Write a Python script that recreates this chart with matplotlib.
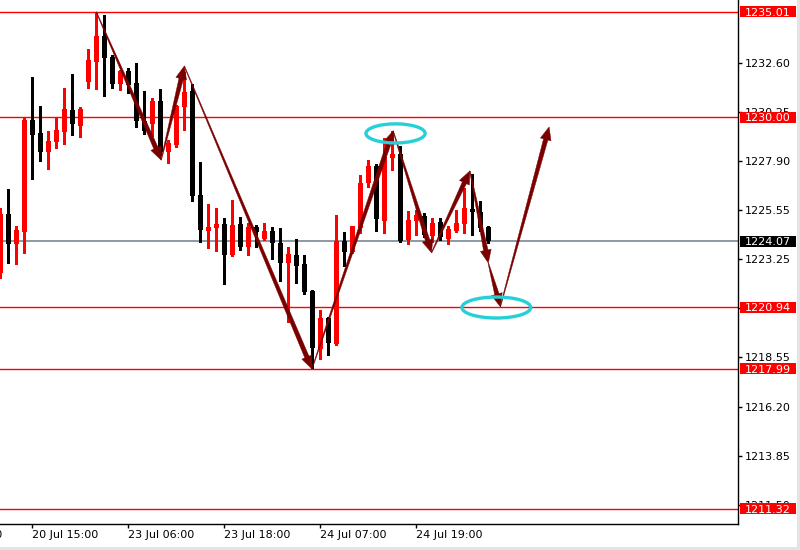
import matplotlib
matplotlib.use('Agg')
import matplotlib.pyplot as plt
import numpy as np
from matplotlib.patches import Polygon, Ellipse, Rectangle
from matplotlib.transforms import blended_transform_factory

# ---- data (H1 candles) ----
opens = [1222.57, 1225.38, 1223.95, 1224.52, 1229.86, 1229.24, 1228.33, 1228.81, 1229.29, 1230.34,
         1229.57, 1231.67, 1232.62, 1233.86, 1232.86, 1231.58, 1232.20, 1231.62, 1229.81, 1229.67,
         1230.77, 1228.33, 1228.67, 1230.48, 1231.24, 1226.28, 1224.57, 1224.71, 1224.90, 1223.42,
         1224.90, 1223.81, 1224.76, 1224.19, 1224.57, 1223.99, 1223.04, 1223.42, 1222.99, 1221.71,
         1218.94, 1220.42, 1219.18, 1224.09, 1223.57, 1224.71, 1226.86, 1227.67, 1225.05, 1228.05,
         1228.24, 1224.14, 1225.05, 1225.28, 1224.33, 1224.99, 1224.19, 1224.57, 1224.90, 1225.62,
         1225.47, 1224.76]
highs = [1225.66, 1226.57, 1224.81, 1229.95, 1231.91, 1230.53, 1229.34, 1229.95, 1231.38, 1232.05,
         1230.48, 1233.24, 1235.01, 1234.86, 1232.96, 1232.24, 1232.34, 1232.58, 1231.24, 1230.91,
         1231.34, 1228.91, 1230.57, 1232.15, 1231.58, 1227.86, 1225.85, 1225.66, 1225.19, 1226.05,
         1225.24, 1224.95, 1224.85, 1224.95, 1224.76, 1224.71, 1223.81, 1224.19, 1223.42, 1221.76,
         1220.80, 1220.47, 1225.33, 1224.52, 1224.81, 1227.24, 1227.95, 1227.76, 1229.00, 1229.34,
         1228.62, 1225.52, 1225.57, 1225.43, 1225.19, 1225.19, 1224.81, 1225.57, 1226.62, 1227.29,
         1226.00, 1224.81]
lows = [1222.33, 1223.04, 1222.99, 1223.52, 1227.05, 1227.90, 1227.52, 1228.53, 1228.72, 1229.14,
        1229.05, 1231.38, 1231.34, 1231.00, 1231.38, 1231.29, 1231.15, 1229.53, 1229.19, 1229.10,
        1228.19, 1227.81, 1228.57, 1229.38, 1226.00, 1224.04, 1223.76, 1223.61, 1222.04, 1223.38,
        1223.66, 1223.42, 1223.81, 1224.14, 1223.23, 1222.18, 1220.23, 1222.09, 1221.57, 1218.04,
        1218.47, 1218.66, 1219.13, 1222.90, 1223.52, 1224.47, 1226.67, 1224.57, 1224.47, 1227.48,
        1224.04, 1223.95, 1224.38, 1224.28, 1224.04, 1224.14, 1223.95, 1224.52, 1224.47, 1224.38,
        1224.57, 1223.99]
closes = [1225.38, 1223.95, 1224.62, 1229.86, 1229.14, 1228.33, 1228.86, 1229.38, 1230.38, 1229.67,
          1230.38, 1232.72, 1233.86, 1232.81, 1231.58, 1232.20, 1231.53, 1229.81, 1229.34, 1230.77,
          1228.33, 1228.76, 1230.53, 1231.19, 1226.24, 1224.62, 1224.76, 1224.90, 1223.42, 1224.85,
          1223.81, 1224.76, 1224.52, 1224.57, 1223.99, 1223.04, 1223.47, 1222.90, 1221.66, 1218.99,
          1220.42, 1219.23, 1224.09, 1223.57, 1224.81, 1226.86, 1227.67, 1225.14, 1228.10, 1228.24,
          1224.09, 1225.09, 1225.33, 1224.38, 1224.95, 1224.28, 1224.66, 1224.95, 1225.66, 1225.47,
          1224.71, 1224.07]

level_lines = [1235.01, 1230.00, 1220.94, 1217.99, 1211.32]
current_price = 1224.07

y_ticks = [1211.50, 1213.85, 1216.20, 1218.55, 1220.90, 1223.25, 1225.55, 1227.90, 1230.25, 1232.60]
x_tick_bars = [4, 16, 28, 40, 52]
x_tick_labels = ['20 Jul 15:00', '23 Jul 06:00', '23 Jul 18:00', '24 Jul 07:00', '24 Jul 19:00']
partial_label_bar = -8
partial_label = '20 Jul 03:00'

# zig-zag forecast arrows: (bar, price) -> (bar, price)
arrow_paths = [((12.0, 1235.01), (20.1, 1227.95)),
               ((20.1, 1227.95), (23.0, 1232.43)),
               ((23.0, 1232.43), (38.95, 1217.99)),
               ((38.95, 1217.99), (49.1, 1229.34)),
               ((49.1, 1229.34), (53.9, 1223.53)),
               ((53.9, 1223.53), (58.7, 1227.43)),
               ((58.7, 1227.43), (61.0, 1223.04)),
               ((61.0, 1223.04), (62.5, 1220.96)),
               ((62.5, 1220.96), (68.6, 1229.53))]
# ellipses: center bar, center price, width in bars, height in price
ellipses = [(49.4, 1229.22, 7.4, 0.91),
            (62.0, 1220.92, 8.6, 1.0)]

# ---- figure ----
W, H = 800, 550
fig = plt.figure(figsize=(8, 5.5), dpi=100)
fig.patch.set_facecolor('white')
ax_right_px, ax_bottom_px = 738, 524
ax = fig.add_axes([0, (H - ax_bottom_px) / H, ax_right_px / W, ax_bottom_px / H])
ax.set_facecolor('white')

px_per_bar = 8.0
x0 = -0.04
ax.set_xlim(x0, x0 + ax_right_px / px_per_bar)
ax.set_ylim(1210.60, 1235.58)

# candles
n = len(opens)
idx = np.arange(n)
o = np.array(opens); c = np.array(closes); hi = np.array(highs); lo = np.array(lows)
colors = ['#FF0000' if cc >= oo else '#000000' for oo, cc in zip(o, c)]
ax.vlines(idx, lo, hi, colors=colors, linewidth=1.0, zorder=3, antialiased=False)
bottoms = np.minimum(o, c)
heights = np.maximum(np.abs(c - o), 0.06)
ax.bar(idx, heights, bottom=bottoms, width=0.66, color=colors, linewidth=0, zorder=4, antialiased=False)

# horizontal levels
for lv in level_lines:
    ax.axhline(lv, color='#FF0000', linewidth=1.0, zorder=2)
ax.axhline(current_price, color='#7B8794', linewidth=1.2, zorder=2)

# spines / ticks
for s in ['left', 'top']:
    ax.spines[s].set_visible(False)
for s in ['right', 'bottom']:
    ax.spines[s].set_color('black')
    ax.spines[s].set_linewidth(1.0)
ax.yaxis.tick_right()
ax.set_yticks(y_ticks)
ax.set_yticklabels([f'{v:.2f}' for v in y_ticks])
ax.tick_params(axis='y', direction='out', length=3, width=1, pad=2, labelsize=8, colors='black')
ax.set_xticks(x_tick_bars)
ax.set_xticklabels(x_tick_labels)
ax.tick_params(axis='x', direction='out', length=3, width=1, pad=1.5, labelsize=8, colors='black')
for lab in ax.get_xticklabels():
    lab.set_horizontalalignment('left')

# partial time label cut by the left edge
ax.text(partial_label_bar, -0.012, partial_label, transform=blended_transform_factory(ax.transData, ax.transAxes),
        ha='left', va='top', fontsize=8, clip_on=False)

# price labels on the right axis
bt = blended_transform_factory(ax.transAxes, ax.transData)
box_h = 11 * (1235.58 - 1210.60) / ax_bottom_px
for lv, fc in [(v, '#FF0000') for v in level_lines] + [(current_price, '#000000')]:
    ax.add_patch(Rectangle((740 / ax_right_px, lv - box_h / 2), 56 / ax_right_px, box_h,
                           transform=bt, clip_on=False, facecolor=fc, edgecolor='none', zorder=10))
    ax.text(745 / ax_right_px, lv, f'{lv:.2f}', transform=bt, ha='left', va='center_baseline',
            fontsize=8, color='white', clip_on=False, zorder=11)

# tapered arrows (built in pixel space)
fig.canvas.draw()
def tapered_arrow(p0, p1, color='#7A0000', w_tail=0.6, w_shaft=4.5, head_len=13, head_w=11):
    a = ax.transData.transform(p0)
    b = ax.transData.transform(p1)
    d = b - a
    L = np.hypot(*d)
    u = d / L
    nrm = np.array([-u[1], u[0]])
    base = b - u * head_len
    pts = [a + nrm * w_tail / 2, base + nrm * w_shaft / 2, base + nrm * head_w / 2, b,
           base - nrm * head_w / 2, base - nrm * w_shaft / 2, a - nrm * w_tail / 2]
    pts = ax.transData.inverted().transform(np.array(pts))
    ax.add_patch(Polygon(pts, closed=True, facecolor=color, edgecolor=color, linewidth=0.3,
                         zorder=6))

for p0, p1 in arrow_paths:
    tapered_arrow(p0, p1)

for cx, cy, w, h in ellipses:
    ax.add_patch(Ellipse((cx, cy), w, h, fill=False, edgecolor='#25D0D8', linewidth=2.4, zorder=7))

# light gray outer frame (right and bottom)
fig.patches.append(Rectangle((797 / W, 0), 3 / W, 1, transform=fig.transFigure, facecolor='#E3E3E3',
                             edgecolor='none', zorder=0))
fig.patches.append(Rectangle((0, 0), 1, 3 / H, transform=fig.transFigure, facecolor='#E3E3E3',
                             edgecolor='none', zorder=0))

fig.savefig('out.png', dpi=100)
